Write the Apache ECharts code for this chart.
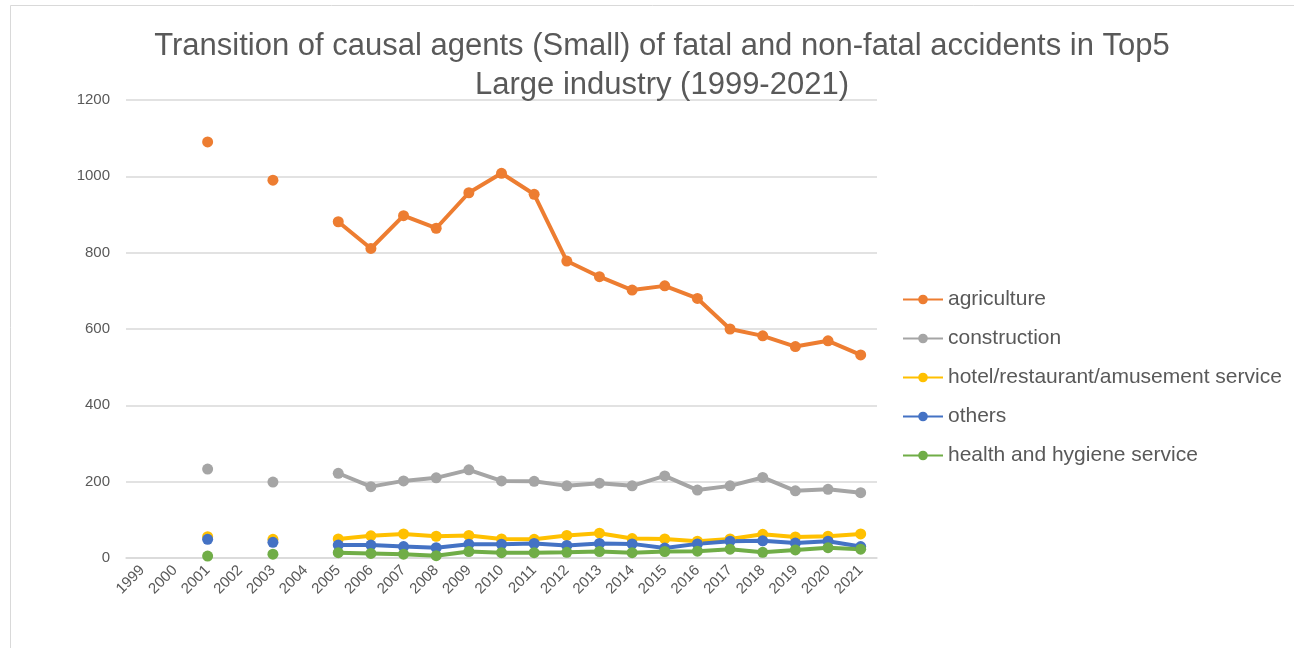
<!DOCTYPE html>
<html>
<head>
<meta charset="utf-8">
<script src="https://cdn.jsdelivr.net/npm/echarts@6/dist/echarts.min.js"></script>
<style>
  html, body { margin: 0; padding: 0; background: #fff; }
  #main { width: 1294px; height: 648px; }
</style>
</head>
<body>
<div id="main"></div>
<script>
// years on the x axis
var years = ['1999', '2000', '2001', '2002', '2003', '2004', '2005', '2006', '2007', '2008', '2009',
    '2010', '2011', '2012', '2013', '2014', '2015', '2016', '2017', '2018', '2019', '2020', '2021'];
var yTicks = [0, 200, 400, 600, 800, 1000, 1200];

var agriculture = [null, null, 1090, null, 990, null, 881, 811, 897, 864, 957, 1008, 953, 778, 737, 702, 713, 680, 600, 582, 554, 569, 532];
var construction = [null, null, 233, null, 199, null, 222, 187, 202, 210, 231, 202, 201, 189, 196, 189, 215, 178, 189, 211, 176, 180, 171];
var hotel = [null, null, 56, null, 49, null, 50, 58, 63, 57, 59, 50, 49, 59, 65, 51, 50, 44, 50, 62, 55, 57, 63];
var others = [null, null, 49, null, 41, null, 34, 34, 30, 27, 36, 36, 38, 33, 38, 37, 26, 37, 44, 45, 39, 44, 30];
var health = [null, null, 5, null, 10, null, 14, 12, 10, 6, 17, 14, 14, 15, 17, 14, 17, 18, 23, 15, 21, 27, 23];

var names = ['agriculture', 'construction', 'hotel/restaurant/amusement service', 'others', 'health and hygiene service'];
var colors = ['#ED7D31', '#A5A5A5', '#FFC000', '#4472C4', '#70AD47'];
var values = [agriculture, construction, hotel, others, health];

var myChart = echarts.init(document.getElementById('main'));

var series = [];
for (var i = 0; i < names.length; i++) {
    series.push({
        name: names[i],
        type: 'line',
        data: values[i],
        symbol: 'circle',
        symbolSize: 11,
        showSymbol: true,
        connectNulls: false,
        lineStyle: { width: 4, color: colors[i] },
        itemStyle: { color: colors[i] },
        emphasis: { disabled: true }
    });
}

var option = {
    animation: false,
    color: colors,
    title: {
        text: 'Transition of causal agents (Small) of fatal and non-fatal accidents in Top5\nLarge industry (1999-2021)',
        left: 657,
        textAlign: 'center',
        top: 22,
        textStyle: {
            fontFamily: 'Liberation Sans',
            fontWeight: 'normal',
            fontSize: 31,
            lineHeight: 39,
            color: '#595959'
        }
    },
    legend: {
        orient: 'vertical',
        left: 902,
        top: 289,
        padding: 0,
        itemWidth: 40,
        itemHeight: 12,
        itemGap: 18,
        textStyle: {
            fontFamily: 'Liberation Sans',
            fontSize: 21,
            lineHeight: 21,
            color: '#595959'
        },
        data: names
    },
    grid: {
        left: 126,
        right: 417,
        top: 100,
        bottom: 90,
        containLabel: false
    },
    xAxis: {
        type: 'category',
        boundaryGap: true,
        data: years,
        axisLine: { lineStyle: { color: '#d9d9d9', width: 1.5 } },
        axisTick: { show: false },
        axisLabel: {
            interval: 0,
            rotate: 45,
            margin: 10,
            fontFamily: 'Liberation Sans',
            fontSize: 15,
            color: '#595959'
        }
    },
    yAxis: {
        type: 'value',
        min: yTicks[0],
        max: yTicks[yTicks.length - 1],
        interval: 200,
        axisLine: { show: false },
        axisTick: { show: false },
        splitLine: { lineStyle: { color: '#d9d9d9', width: 1.5 } },
        axisLabel: {
            margin: 16,
            fontFamily: 'Liberation Sans',
            fontSize: 15,
            color: '#595959',
            formatter: function (v) { return String(v); }
        }
    },
    graphic: [{
        type: 'rect',
        left: 8,
        top: 3,
        shape: { width: 1300, height: 700 },
        style: { fill: 'none', stroke: '#d9d9d9', lineWidth: 1 },
        silent: true
    }],
    series: series
};
myChart.setOption(option);
</script>
</body>
</html>
